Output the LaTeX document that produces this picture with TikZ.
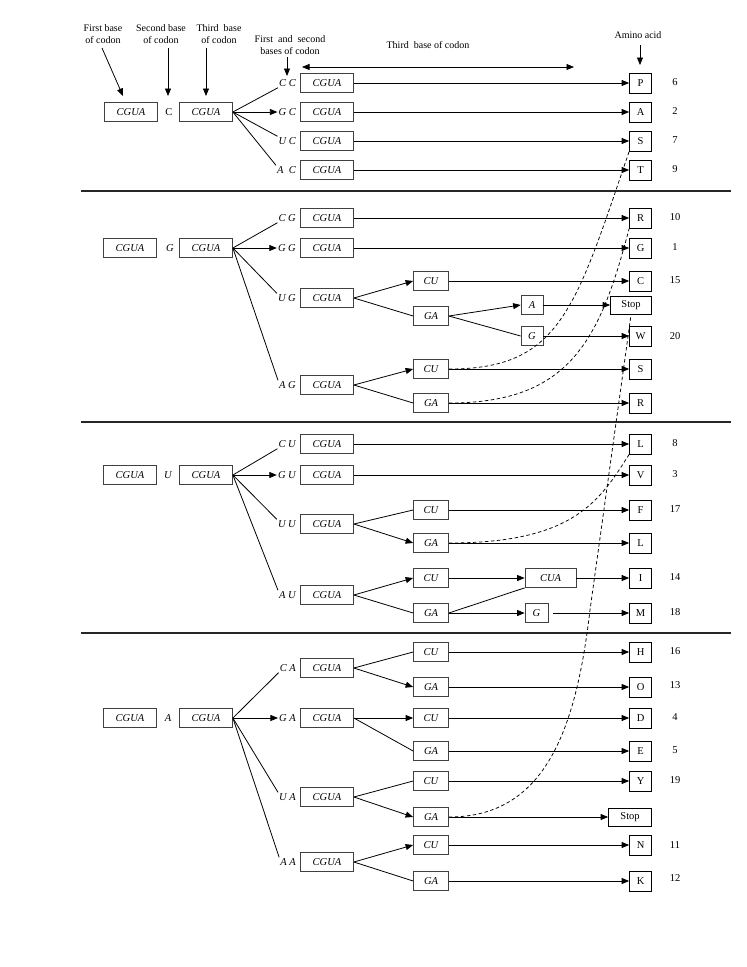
\documentclass[tikz,border=0pt]{standalone}
\usepackage{fontspec}
\setmainfont{Liberation Serif}
\usetikzlibrary{arrows.meta,calc}
\newcommand\myfs{\fontsize{10.5}{12}\selectfont}
\newcommand\myfh{\fontsize{10}{12}\selectfont}
\begin{document}
\begin{tikzpicture}[x=1pt,y=-1pt,
  cg/.style={draw=black!75, line width=0.75pt, minimum width=53pt, minimum height=19pt, inner sep=0pt, font=\myfs\itshape},
  sm/.style={cg, minimum width=35pt},
  aa/.style={draw, line width=0.85pt, minimum width=22pt, minimum height=20pt, inner sep=0pt, font=\myfs, anchor=east},
  lab/.style={font=\myfs\itshape, anchor=east, inner sep=1pt},
  mid/.style={font=\myfs},
  num/.style={font=\myfs},
  ln/.style={line width=0.8pt},
  ar/.style={ln, -{Triangle[length=7.5pt,width=6pt]}},
  dar/.style={ln, {Triangle[length=7.5pt,width=6pt]}-{Triangle[length=7.5pt,width=6pt]}},
  dsh/.style={line width=0.75pt, dash pattern=on 3.5pt off 2.5pt},
  hdr/.style={font=\myfh, align=center, inner sep=1pt},
  divl/.style={line width=1.5pt, black!85}
]
\useasboundingbox (0,0) rectangle (747,967);

% ---------- header ----------
\node[hdr] (h1) at (103,34) {First base\\of codon};
\node[hdr] (h2) at (161,34) {Second base\\of codon};
\node[hdr] (h3) at (219,34) {Third\ \ base\\of codon};
\node[hdr] (h4) at (290,45) {First\ \ and\ \ second\\bases of codon};
\node[hdr] (h5) at (428,45) {Third\ \ base of codon};
\node[hdr] (h6) at (638,35) {Amino acid};
\coordinate (e1s) at (102,48); \coordinate (e1e) at (123,96);
\coordinate (e2s) at (168,48); \coordinate (e2e) at (168,96);
\coordinate (e3s) at (206,48); \coordinate (e3e) at (206,96);
\coordinate (e4s) at (287,57); \coordinate (e4e) at (287,76);
\coordinate (e5s) at (302,67); \coordinate (e5e) at (574,67);
\coordinate (e6s) at (640,45); \coordinate (e6e) at (640,65);
\draw[ar] (e1s) -- (e1e);
\draw[ar] (e2s) -- (e2e);
\draw[ar] (e3s) -- (e3e);
\draw[ar] (e4s) -- (e4e);
\draw[dar] (e5s) -- (e5e);
\draw[ar] (e6s) -- (e6e);

% ---------- dividers ----------
\coordinate (d1l) at (81,191); \coordinate (d1r) at (731,191);
\coordinate (d2l) at (81,422); \coordinate (d2r) at (731,422);
\coordinate (d3l) at (81,633); \coordinate (d3r) at (731,633);
\draw[divl] (d1l) -- (d1r);
\draw[divl] (d2l) -- (d2r);
\draw[divl] (d3l) -- (d3r);

% ---------- section 1 ----------
\node[cg] (a1) at (131,112) {CGUA};
\node[mid] (t1) at (169,112) {C};
\node[cg] (b1) at (206,112) {CGUA};
\node[lab] (l11) at (297,83) {C C};
\node[lab] (l12) at (297,112) {G C};
\node[lab] (l13) at (297,141) {U C};
\node[lab] (l14) at (297,170) {A\ \ C};
\node[cg] (c11) at (327,83) {CGUA};
\node[cg] (c12) at (327,112) {CGUA};
\node[cg] (c13) at (327,141) {CGUA};
\node[cg] (c14) at (327,170) {CGUA};
\node[aa] (m11) at (652,83) {P};
\node[aa] (m12) at (652,112) {A};
\node[aa] (m13) at (652,141) {S};
\node[aa] (m14) at (652,170) {T};
\node[num] (n11) at (675,82) {6};
\node[num] (n12) at (675,111) {2};
\node[num] (n13) at (675,140) {7};
\node[num] (n14) at (675,169) {9};
\draw[ln] (b1.east) -- (l11.south west);
\draw[ar] (b1.east) -- (l12.west);
\draw[ln] (b1.east) -- (l13.north west);
\draw[ln] (b1.east) -- (l14.north west);
\draw[ar] (c11.east) -- (m11.west);
\draw[ar] (c12.east) -- (m12.west);
\draw[ar] (c13.east) -- (m13.west);
\draw[ar] (c14.east) -- (m14.west);

% ---------- section 2 ----------
\node[cg] (a2) at (130,248) {CGUA};
\node[mid,font=\myfs\itshape] (t2) at (170,248) {G};
\node[cg] (b2) at (206,248) {CGUA};
\node[lab] (l21) at (297,218) {C G};
\node[lab] (l22) at (297,248) {G G};
\node[lab] (l23) at (297,298) {U G};
\node[lab] (l24) at (297,385) {A G};
\node[cg] (c21) at (327,218) {CGUA};
\node[cg] (c22) at (327,248) {CGUA};
\node[cg] (c23) at (327,298) {CGUA};
\node[cg] (c24) at (327,385) {CGUA};
\node[sm] (s23a) at (431,281) {CU};
\node[sm] (s23b) at (431,316) {GA};
\node[sm, minimum width=22pt] (x2a) at (532,305) {A};
\node[sm, minimum width=22pt] (x2b) at (532,336) {G};
\node[sm] (s24a) at (431,369) {CU};
\node[sm] (s24b) at (431,403) {GA};
\node[aa] (m21) at (652,218) {R};
\node[aa] (m22) at (652,248) {G};
\node[aa] (m23) at (652,281) {C};
\node[aa, minimum width=41pt, minimum height=18pt] (stop2) at (652,305) {Stop};
\node[aa] (m24) at (652,336) {W};
\node[aa] (m25) at (652,369) {S};
\node[aa] (m26) at (652,403) {R};
\node[num] (n21) at (675,217) {10};
\node[num] (n22) at (675,247) {1};
\node[num] (n23) at (675,280) {15};
\node[num] (n24) at (675,336) {20};
\draw[ln] (b2.east) -- (l21.south west);
\draw[ar] (b2.east) -- (l22.west);
\draw[ln] (b2.east) -- (l23.north west);
\draw[ln] (b2.east) -- (l24.north west);
\draw[ar] (c21.east) -- (m21.west);
\draw[ar] (c22.east) -- (m22.west);
\draw[ar] (c23.east) -- (s23a.west);
\draw[ln] (c23.east) -- (s23b.west);
\draw[ar] (s23a.east) -- (m23.west);
\draw[ar] (s23b.east) -- (x2a.west);
\draw[ln] (s23b.east) -- (x2b.west);
\draw[ar] (x2a.east) -- (stop2.west);
\draw[ar] (x2b.east) -- (m24.west);
\draw[ar] (c24.east) -- (s24a.west);
\draw[ln] (c24.east) -- (s24b.west);
\draw[ar] (s24a.east) -- (m25.west);
\draw[ar] (s24b.east) -- (m26.west);

% ---------- section 3 ----------
\node[cg] (a3) at (130,475) {CGUA};
\node[mid,font=\myfs\itshape] (t3) at (168,475) {U};
\node[cg] (b3) at (206,475) {CGUA};
\node[lab] (l31) at (297,444) {C U};
\node[lab] (l32) at (297,475) {G U};
\node[lab] (l33) at (297,524) {U U};
\node[lab] (l34) at (297,595) {A U};
\node[cg] (c31) at (327,444) {CGUA};
\node[cg] (c32) at (327,475) {CGUA};
\node[cg] (c33) at (327,524) {CGUA};
\node[cg] (c34) at (327,595) {CGUA};
\node[sm] (s33a) at (431,510) {CU};
\node[sm] (s33b) at (431,543) {GA};
\node[sm] (s34a) at (431,578) {CU};
\node[sm] (s34b) at (431,613) {GA};
\node[sm, minimum width=51pt] (x3a) at (550.5,578) {CUA};
\node[sm, minimum width=23pt] (x3b) at (536.5,613) {G};
\node[aa] (m31) at (652,444) {L};
\node[aa] (m32) at (652,475) {V};
\node[aa] (m33) at (652,510) {F};
\node[aa] (m34) at (652,543) {L};
\node[aa] (m35) at (652,578) {I};
\node[aa] (m36) at (652,613) {M};
\node[num] (n31) at (675,443) {8};
\node[num] (n32) at (675,474) {3};
\node[num] (n33) at (675,509) {17};
\node[num] (n35) at (675,577) {14};
\node[num] (n36) at (675,612) {18};
\draw[ln] (b3.east) -- (l31.south west);
\draw[ar] (b3.east) -- (l32.west);
\draw[ln] (b3.east) -- (l33.north west);
\draw[ln] (b3.east) -- (l34.north west);
\draw[ar] (c31.east) -- (m31.west);
\draw[ar] (c32.east) -- (m32.west);
\draw[ln] (c33.east) -- (s33a.west);
\draw[ar] (c33.east) -- (s33b.west);
\draw[ar] (s33a.east) -- (m33.west);
\draw[ar] (s33b.east) -- (m34.west);
\draw[ar] (c34.east) -- (s34a.west);
\draw[ln] (c34.east) -- (s34b.west);
\draw[ar] (s34a.east) -- (x3a.west);
\draw[ln] (s34b.east) -- (x3a.south west);
\draw[ar] (s34b.east) -- (x3b.west);
\draw[ar] (x3a.east) -- (m35.west);
\draw[ar] ($(x3b.east)+(5,0)$) -- (m36.west);

% ---------- section 4 ----------
\node[cg] (a4) at (130,718) {CGUA};
\node[mid,font=\myfs\itshape] (t4) at (168,718) {A};
\node[cg] (b4) at (206,718) {CGUA};
\node[lab] (l41) at (297,668) {C A};
\node[lab] (l42) at (297,718) {G A};
\node[lab] (l43) at (297,797) {U A};
\node[lab] (l44) at (297,862) {A A};
\node[cg] (c41) at (327,668) {CGUA};
\node[cg] (c42) at (327,718) {CGUA};
\node[cg] (c43) at (327,797) {CGUA};
\node[cg] (c44) at (327,862) {CGUA};
\node[sm] (s41a) at (431,652) {CU};
\node[sm] (s41b) at (431,687) {GA};
\node[sm] (s42a) at (431,718) {CU};
\node[sm] (s42b) at (431,751) {GA};
\node[sm] (s43a) at (431,781) {CU};
\node[sm] (s43b) at (431,817) {GA};
\node[sm] (s44a) at (431,845) {CU};
\node[sm] (s44b) at (431,881) {GA};
\node[aa] (m41) at (652,652) {H};
\node[aa] (m42) at (652,687) {O};
\node[aa] (m43) at (652,718) {D};
\node[aa] (m44) at (652,751) {E};
\node[aa] (m45) at (652,781) {Y};
\node[aa, minimum width=43pt, minimum height=18pt] (stop4) at (652,817) {Stop};
\node[aa] (m47) at (652,845) {N};
\node[aa] (m48) at (652,881) {K};
\node[num] (n41) at (675,651) {16};
\node[num] (n42) at (675,685) {13};
\node[num] (n43) at (675,717) {4};
\node[num] (n44) at (675,750) {5};
\node[num] (n45) at (675,780) {19};
\node[num] (n47) at (675,845) {11};
\node[num] (n48) at (675,878) {12};
\draw[ln] (b4.east) -- (l41.south west);
\draw[ar] (b4.east) -- (l42.west);
\draw[ln] (b4.east) -- (l43.north west);
\draw[ln] (b4.east) -- (l44.north west);
\draw[ln] (c41.east) -- (s41a.west);
\draw[ar] (c41.east) -- (s41b.west);
\draw[ar] (c42.east) -- (s42a.west);
\draw[ln] (c42.east) -- (s42b.west);
\draw[ln] (c43.east) -- (s43a.west);
\draw[ar] (c43.east) -- (s43b.west);
\draw[ar] (c44.east) -- (s44a.west);
\draw[ln] (c44.east) -- (s44b.west);
\draw[ar] (s41a.east) -- (m41.west);
\draw[ar] (s41b.east) -- (m42.west);
\draw[ar] (s42a.east) -- (m43.west);
\draw[ar] (s42b.east) -- (m44.west);
\draw[ar] (s43a.east) -- (m45.west);
\draw[ar] (s43b.east) -- (stop4.west);
\draw[ar] (s44a.east) -- (m47.west);
\draw[ar] (s44b.east) -- (m48.west);

% ---------- dashed links ----------
\coordinate (k1) at (590,610);
\draw[dsh] (s24a.east) .. controls (560,369) and (575,310) .. (m13.south west);
\draw[dsh] (s24b.east) .. controls (570,403) and (600,340) .. (m21.south west);
\draw[dsh] (s43b.east) .. controls (545,817) and (576,730) .. (k1) -- (stop2.south);
\draw[dsh] (s33b.east) .. controls (575,543) and (600,500) .. (m31.south west);
\end{tikzpicture}
\end{document}
